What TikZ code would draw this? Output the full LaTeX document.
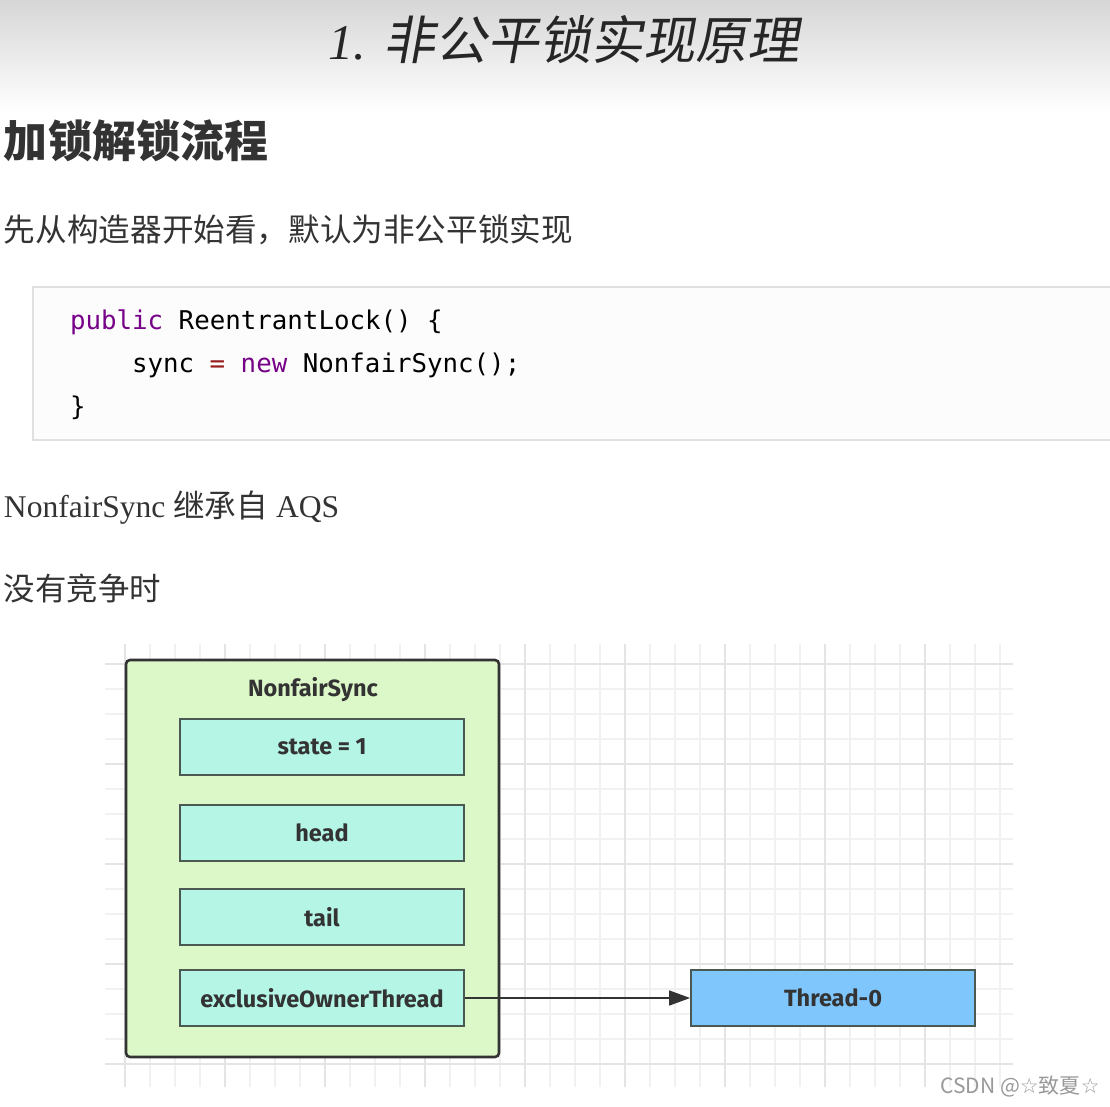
\documentclass[tikz,border=0pt]{standalone}
\usepackage{fontspec}
\usetikzlibrary{arrows.meta}
\newfontfamily\cjk{Noto Sans CJK SC}
\newfontfamily\cjkslant{Noto Sans CJK SC}[FakeSlant=0.18]
\newfontfamily\serifx{Liberation Serif}
\newfontfamily\monox{DejaVu Sans Mono}
\newfontfamily\diag{Fira Sans}
\newfontfamily\symx{DejaVu Sans}
\definecolor{gridminor}{HTML}{F1F1F1}
\definecolor{gridmajor}{HTML}{E4E4E4}
\definecolor{syncfill}{HTML}{DDF8C8}
\definecolor{fieldfill}{HTML}{B4F5E6}
\definecolor{threadfill}{HTML}{7FC6FC}
\definecolor{inkdark}{HTML}{333333}
\definecolor{fieldline}{HTML}{4A5A52}
\definecolor{kwpurple}{HTML}{770088}
\definecolor{opred}{HTML}{981A1A}
\definecolor{codeframe}{HTML}{E0E0E0}
\tikzset{
  plain/.style={inner sep=0pt, outer sep=0pt, text=inkdark},
  diagfont/.style={font=\diag\bfseries\fontsize{23.5}{26}\selectfont},
  outerbox/.style={draw=inkdark, line width=2.6pt, fill=syncfill, rounded corners=4pt, inner sep=0pt},
  field/.style={draw=fieldline, line width=1.8pt, fill=fieldfill, minimum width=284pt, minimum height=56pt, inner sep=0pt,
    diagfont, text=inkdark},
  threadbox/.style={field, fill=threadfill, draw=fieldline},
  codetext/.style={inner sep=0pt, outer sep=0pt, anchor=base west, text=black, font=\monox\fontsize{25.8}{30}\selectfont},
  link/.style={draw=inkdark, line width=1.5pt, -{Triangle[length=21pt, width=15pt]}}
}
\begin{document}
\begin{tikzpicture}[x=1pt, y=-1pt]
\useasboundingbox (0,0) rectangle (1110,1106);
\fill[white] (0,0) rectangle (1110,1106);
% header band
\shade[top color=black!16, bottom color=white] (0,0) rectangle (1110,112);
\node[plain, text=black!85] (title) at (564,40)
  {{\serifx\itshape\fontsize{50}{56}\selectfont 1. }{\cjkslant\fontsize{52}{56}\selectfont 非公平锁实现原理}};

% headings and prose
\node[plain, anchor=west] (heading) at (4,141) {\cjk\bfseries\fontsize{44}{50}\selectfont 加锁解锁流程};
\node[plain, anchor=west] (intro) at (4,230) {\cjk\fontsize{31.6}{36}\selectfont 先从构造器开始看，默认为非公平锁实现};

% code block
\draw[codeframe, line width=1.2pt, fill=black!1] (33,287) rectangle (1120,440);
\node[codetext] (c1) at (70,329) {\textcolor{kwpurple}{public} ReentrantLock() \{};
\node[codetext] (c2) at (132,372) {sync \textcolor{opred}{=} \textcolor{kwpurple}{new} NonfairSync();};
\node[codetext] (c3) at (70,415) {\}};

\node[plain, anchor=west] (inherit) at (4,508)
  {{\serifx\fontsize{31.6}{36}\selectfont NonfairSync }{\cjk\fontsize{31.6}{36}\selectfont 继承自}{\serifx\fontsize{31.6}{36}\selectfont{} AQS}};
\node[plain, anchor=west] (nocontend) at (4,588) {\cjk\fontsize{31.4}{36}\selectfont 没有竞争时};

% canvas grid
\foreach \x in {125,150,...,1000} \draw[gridminor, line width=1.2pt] (\x,644) -- (\x,1087);
\foreach \y in {664,689,...,1064} \draw[gridminor, line width=1.2pt] (105,\y) -- (1013,\y);
\foreach \x in {125,225,...,925} \draw[gridmajor, line width=1.4pt] (\x,644) -- (\x,1087);
\foreach \y in {664,764,...,1064} \draw[gridmajor, line width=1.4pt] (105,\y) -- (1013,\y);

% NonfairSync object
\node[outerbox, minimum width=373pt, minimum height=397pt] (sync) at (312.5,858.5) {};
\node[plain, diagfont] (synclabel) at (313,690) {NonfairSync};
\node[field] (state) at (322,747) {state = 1};
\node[field] (head) at (322,833) {head};
\node[field] (tail) at (322,917) {tail};
\node[field] (owner) at (322,998) {exclusiveOwnerThread};
\node[threadbox] (thread) at (833,998) {Thread-0};
\draw[link] (owner.east) -- (thread.west);

% watermark
\node[plain, text=black!40] (mark) at (1020,1086)
  {\cjk\fontsize{21}{24}\selectfont CSDN @{\symx ☆}致夏{\symx ☆}};
\end{tikzpicture}
\end{document}
